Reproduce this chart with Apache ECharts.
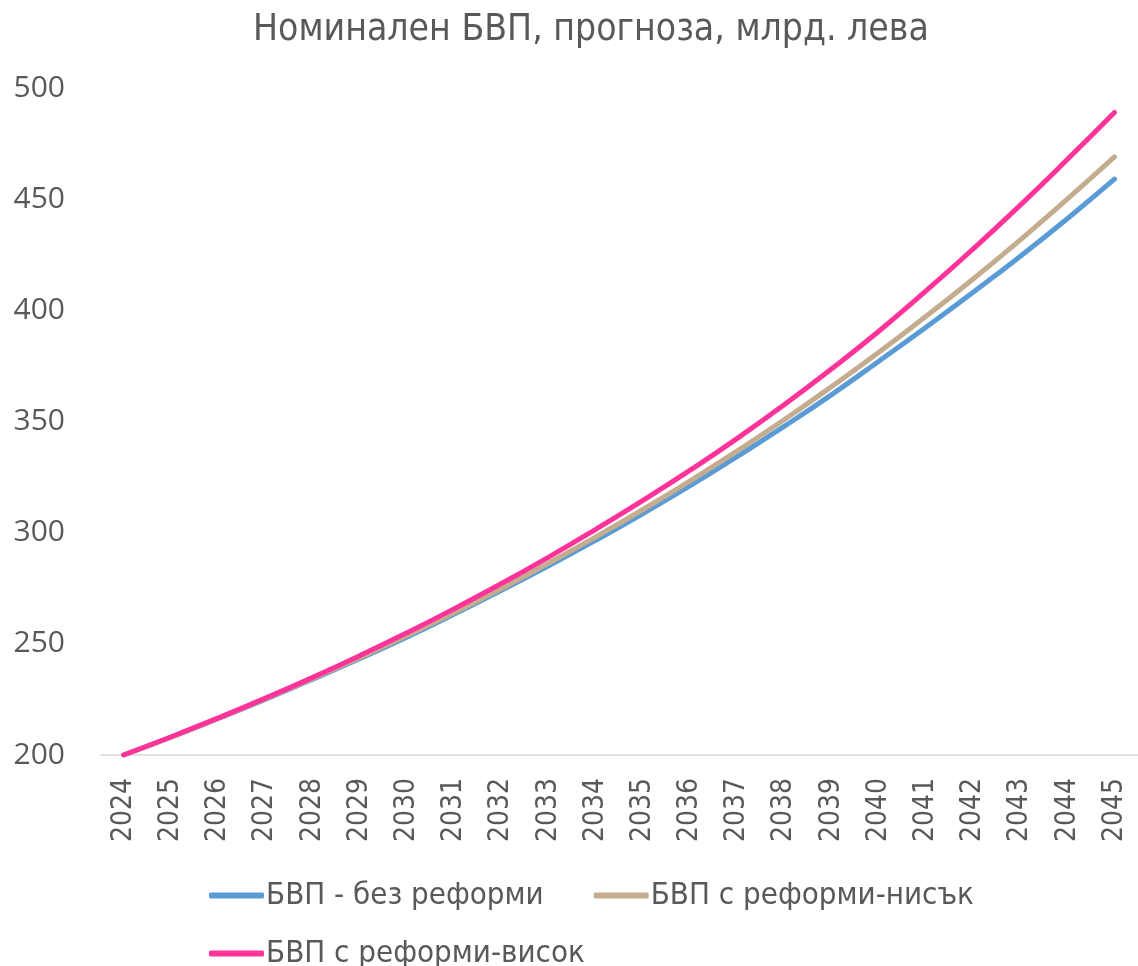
<!DOCTYPE html>
<html><head><meta charset="utf-8">
<script src="https://cdn.jsdelivr.net/npm/echarts@6/dist/echarts.min.js"></script>
<style>html,body{margin:0;padding:0;background:#fff}#c{width:1138px;height:966px}</style>
</head><body><div id="c"></div>
<script>
const titleText = 'Номинален БВП, прогноза, млрд. лева';
const years = ['2024','2025','2026','2027','2028','2029','2030','2031','2032','2033','2034','2035','2036','2037','2038','2039','2040','2041','2042','2043','2044','2045'];
const seriesNames = ['БВП - без реформи','БВП с реформи-нисък','БВП с реформи-висок'];
const noReform = [200,208,216.3,225,234,243.3,253,263.3,274,285,296.5,308.5,321,334.2,347.8,362,377,392.3,408,424.2,441.2,459];
const reformLow = [200,208,216.4,225.2,234.3,243.8,253.7,264,274.8,286.2,298,310.3,323.2,336.7,350.8,365.6,381,397.2,414,431.6,450,469];
const reformHigh = [200,208.1,216.6,225.5,234.8,244.6,254.9,265.7,277,288.9,301.4,314.4,328,342.3,357.5,373.6,390.5,408.6,427.5,447.2,467.8,489];
const yTicks = {min:200, max:500, interval:50};
const colors = ['#5b9bd5','#c4ad8f','#ff3399'];

const narrow = "'DejaVu Sans Condensed', 'Liberation Sans Narrow', sans-serif";
const font = "'Open Sans', 'Noto Sans', sans-serif";
const chart = echarts.init(document.getElementById('c'));
const data = [noReform, reformLow, reformHigh];
const legendBase = {left:204,itemGap:50,itemWidth:55,itemHeight:6,icon:'roundRect',orient:'horizontal',
  textStyle:{fontFamily:narrow,fontSize:31,color:'#595959',padding:[0,0,0,-3]}};
chart.setOption({
  animation:false,
  title:{text:titleText,left:248,top:7,textStyle:{fontFamily:narrow,fontSize:37,fontWeight:'normal',color:'#595959'}},
  grid:{left:100,width:1045,top:88,bottom:211,containLabel:false},
  legend:[
    Object.assign({},legendBase,{top:875,data:[seriesNames[0],seriesNames[1]]}),
    Object.assign({},legendBase,{top:933,data:[seriesNames[2]]})
  ],
  xAxis:{type:'category',data:years,boundaryGap:true,
    axisLine:{lineStyle:{color:'#d9d9d9',width:1.5}},axisTick:{show:false},
    axisLabel:{rotate:90,interval:0,fontFamily:narrow,fontSize:28,color:'#595959',margin:23}},
  yAxis:{type:'value',min:yTicks.min,max:yTicks.max,interval:yTicks.interval,
    axisLine:{show:false},axisTick:{show:false},splitLine:{show:false},
    axisLabel:{fontFamily:font,fontSize:30,color:'#595959',margin:35}},
  series:data.map((d,i)=>({name:seriesNames[i],type:'line',data:d,smooth:true,symbol:'none',
    lineStyle:{color:colors[i],width:5,cap:'round'},itemStyle:{color:colors[i]}}))
});
</script></body></html>
